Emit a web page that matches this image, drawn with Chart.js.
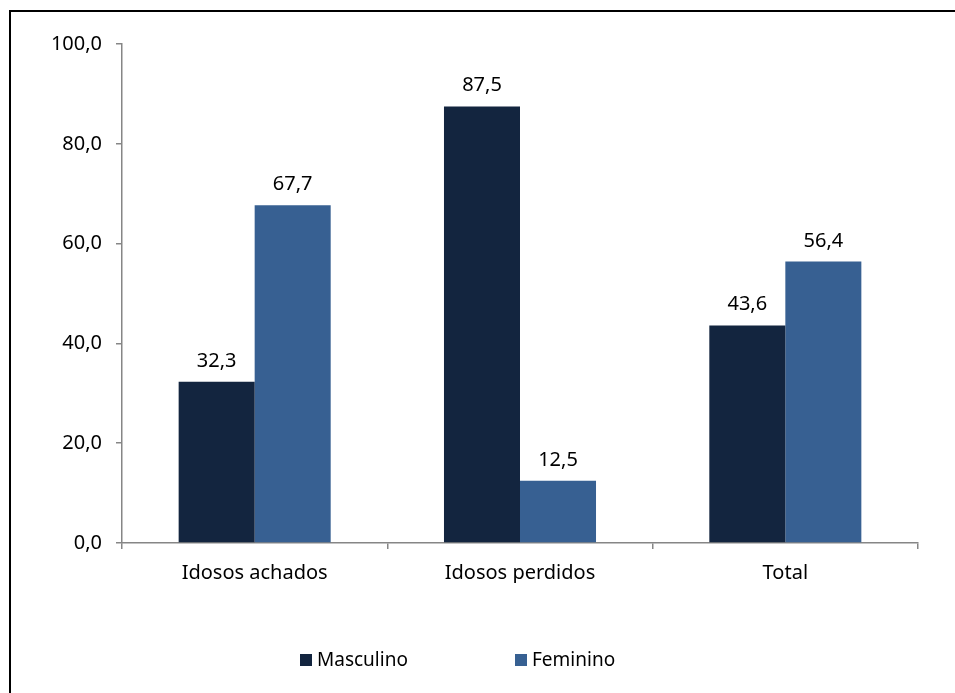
<!DOCTYPE html>
<html>
<head>
<meta charset="utf-8">
<script src="https://cdn.jsdelivr.net/npm/chart.js@4/dist/chart.umd.min.js"></script>
<style>
  html, body { margin: 0; padding: 0; background: #fff; overflow: hidden; }
  #wrap { position: relative; width: 955px; height: 693px; }
  #frame { position: absolute; left: 9px; top: 10px; width: 1200px; height: 1200px;
           border-left: 2px solid #000; border-top: 2px solid #000; box-sizing: border-box; }
  canvas { position: absolute; left: 0; top: 0; }
</style>
</head>
<body>
<div id="wrap">
  <div id="frame"></div>
  <canvas id="c" width="955" height="693"></canvas>
</div>
<script>
const categories = ["Idosos achados", "Idosos perdidos", "Total"];
const seriesNames = ["Masculino", "Feminino"];
const masculino = [32.3, 87.5, 43.6];
const feminino = [67.7, 12.5, 56.4];
const yTicks = [0, 20, 40, 60, 80, 100];

const FONT = "'Noto Sans', 'DejaVu Sans', sans-serif";
const fmt = v => Number(v).toFixed(1).replace('.', ',');

const valueLabels = {
  id: 'valueLabels',
  afterDatasetsDraw(chart) {
    const ctx = chart.ctx;
    ctx.save();
    ctx.font = '20px ' + FONT;
    ctx.fillStyle = '#000';
    ctx.textAlign = 'center';
    ctx.textBaseline = 'alphabetic';
    chart.data.datasets.forEach((ds, di) => {
      chart.getDatasetMeta(di).data.forEach((bar, i) => {
        ctx.fillText(fmt(ds.data[i]), bar.x, bar.y - 15);
      });
    });
    ctx.restore();
  }
};

const customLegend = {
  id: 'customLegend',
  afterDraw(chart) {
    const ctx = chart.ctx;
    ctx.save();
    ctx.font = '19px ' + FONT;
    ctx.textBaseline = 'middle';
    ctx.textAlign = 'left';
    const starts = [300, 515];
    const y = 660;
    chart.data.datasets.forEach((ds, i) => {
      const x = starts[i];
      ctx.fillStyle = ds.backgroundColor;
      ctx.fillRect(x, y - 6, 12, 12);
      ctx.fillStyle = '#000';
      ctx.fillText(ds.label, x + 17, y + 1);
    });
    ctx.restore();
  }
};

new Chart(document.getElementById('c'), {
  type: 'bar',
  data: {
    labels: categories,
    datasets: [
      { label: seriesNames[0], data: masculino, backgroundColor: '#13253f', borderWidth: 0 },
      { label: seriesNames[1], data: feminino, backgroundColor: '#376092', borderWidth: 0 }
    ]
  },
  options: {
    responsive: false,
    animation: false,
    devicePixelRatio: 1,
    layout: { padding: { left: 0, right: 37, top: 44, bottom: 110 } },
    datasets: { bar: { categoryPercentage: 0.573, barPercentage: 1.0 } },
    plugins: {
      legend: { display: false },
      tooltip: { enabled: false },
      title: { display: false }
    },
    scales: {
      x: {
        afterFit(scale) { scale.height = 40; },
        grid: { display: true, drawOnChartArea: false, drawTicks: true, tickLength: 6,
                color: '#868686', lineWidth: 1.5, offset: true },
        border: { display: true, color: '#868686', width: 1.5 },
        ticks: { color: '#000', font: { family: FONT, size: 20 }, padding: 12 }
      },
      y: {
        min: 0, max: 100,
        afterFit(scale) { scale.width = 122; },
        afterBuildTicks(scale) { scale.ticks = yTicks.map(v => ({ value: v })); },
        grid: { display: true, drawOnChartArea: false, drawTicks: true, tickLength: 6,
                color: '#868686', lineWidth: 1.5 },
        border: { display: true, color: '#868686', width: 1.5 },
        ticks: { color: '#000', font: { family: FONT, size: 20 }, padding: 14,
                 callback: v => fmt(v) }
      }
    }
  },
  plugins: [valueLabels, customLegend]
});
</script>
</body>
</html>
